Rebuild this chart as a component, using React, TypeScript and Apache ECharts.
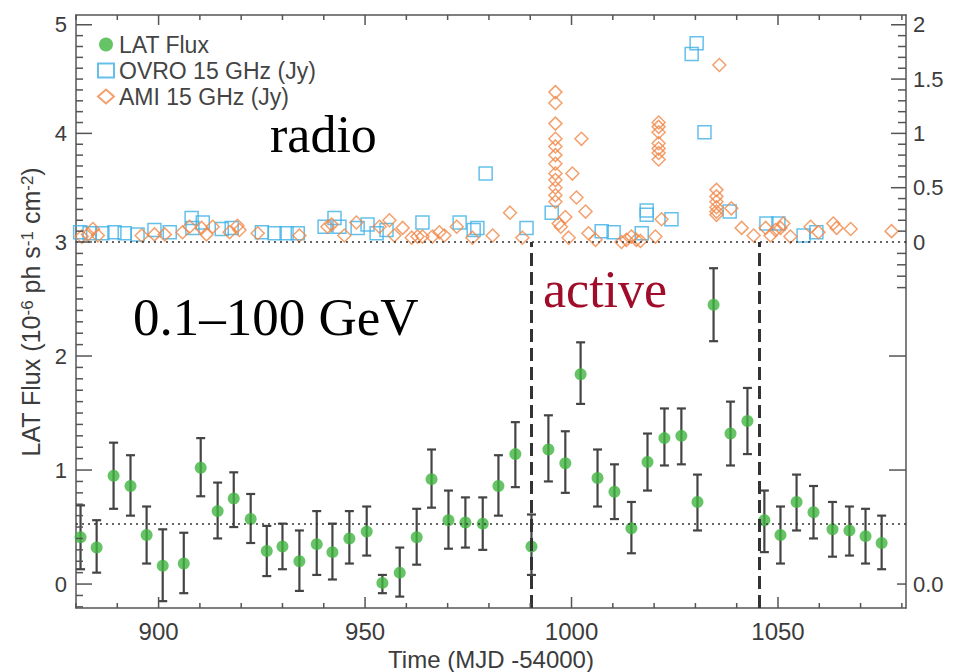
import React, { useEffect, useRef } from "react";
import * as echarts from "echarts";

// ---------- LAT flux (10^-6 ph s^-1 cm^-2) ----------
const latTime = [881.1, 885.0, 889.1, 893.2, 897.1, 901.0, 906.1, 910.2, 914.3, 918.2, 922.3, 926.2, 930.0, 934.1, 938.3, 942.1, 946.2, 950.4, 954.2, 958.4, 962.5, 966.1, 970.2, 974.3, 978.5, 982.3, 986.4, 990.3, 994.4, 998.5, 1002.2, 1006.3, 1010.4, 1014.5, 1018.4, 1022.5, 1026.6, 1030.5, 1034.4, 1038.5, 1042.6, 1046.7, 1050.6, 1054.5, 1058.6, 1063.2, 1067.3, 1071.2, 1075.1];
const latFlux = [0.41, 0.32, 0.95, 0.86, 0.43, 0.16, 0.18, 1.02, 0.64, 0.75, 0.57, 0.29, 0.33, 0.20, 0.35, 0.28, 0.40, 0.46, 0.01, 0.10, 0.41, 0.92, 0.56, 0.54, 0.53, 0.86, 1.14, 0.33, 1.18, 1.06, 1.84, 0.93, 0.81, 0.49, 1.07, 1.28, 1.30, 0.72, 2.45, 1.32, 1.43, 0.56, 0.43, 0.72, 0.63, 0.48, 0.47, 0.42, 0.36];
const latHigh = [0.69, 0.56, 1.24, 1.13, 0.68, 0.48, 0.45, 1.28, 0.89, 0.98, 0.79, 0.51, 0.53, 0.47, 0.64, 0.53, 0.64, 0.68, 0.08, 0.32, 0.66, 1.18, 0.82, 0.76, 0.76, 1.13, 1.42, 0.61, 1.48, 1.34, 2.12, 1.18, 1.05, 0.72, 1.32, 1.54, 1.54, 0.96, 2.77, 1.60, 1.72, 0.82, 0.68, 0.96, 0.86, 0.72, 0.68, 0.66, 0.60];
const latLow = [0.13, 0.10, 0.66, 0.60, 0.18, -0.15, -0.08, 0.77, 0.40, 0.50, 0.36, 0.07, 0.13, -0.06, 0.08, 0.04, 0.18, 0.25, -0.08, -0.11, 0.17, 0.67, 0.31, 0.32, 0.30, 0.60, 0.85, 0.08, 0.90, 0.80, 1.58, 0.68, 0.57, 0.27, 0.82, 1.04, 1.05, 0.47, 2.13, 1.04, 1.14, 0.28, 0.18, 0.47, 0.40, 0.24, 0.25, 0.18, 0.13];
const latMean = 0.53;

// ---------- OVRO 15 GHz (Jy) ----------
const ovroTime = [881, 883.3, 886.4, 889.3, 891.8, 894.9, 899, 902.7, 908, 908.2, 910.7, 915.3, 917.7, 925, 928.1, 931, 933.7, 940.2, 942.6, 943.8, 948.2, 950.6, 952.8, 955.2, 963.9, 972.9, 976.3, 977.2, 979.2, 989.1, 995.2, 1007.3, 1010.2, 1017, 1018.2, 1018.2, 1024.2, 1029.1, 1030.3, 1032.2, 1038.3, 1047.2, 1050.1, 1056.2, 1059.3];
const ovroFlux = [0.09, 0.08, 0.08, 0.09, 0.08, 0.07, 0.11, 0.09, 0.22, 0.13, 0.18, 0.12, 0.13, 0.09, 0.08, 0.08, 0.08, 0.14, 0.22, 0.14, 0.13, 0.16, 0.08, 0.11, 0.18, 0.18, 0.11, 0.13, 0.63, 0.13, 0.27, 0.10, 0.09, 0.08, 0.29, 0.25, 0.21, 1.73, 1.83, 1.01, 0.28, 0.17, 0.17, 0.06, 0.09];

// ---------- AMI 15 GHz (Jy) ----------
const amiTime = [
  881.4, 882.9, 884.1, 885.3, 895.9, 899.0, 901.5, 905.8, 907.5, 910.4,
  911.6, 913.1, 917.2, 919.1, 919.6, 924.0, 934.1, 940.9, 941.9, 945.0,
  947.9, 953.5, 955.9, 957.1, 959.1, 961.3, 962.7, 963.9, 966.3, 968.0,
  969.2, 972.2, 976.0, 980.9, 985.1, 988.1,
  996.1, 996.1, 996.1, 996.1, 996.1, 996.1, 996.1, 996.1, 996.1, 996.1, 996.1, 996.1,
  996.9, 997.4, 998.5, 999.3, 1000.2, 1001.2, 1002.4, 1003.4, 1004.1, 1005.8,
  1012.1, 1013.3, 1014.5, 1015.7, 1016.7, 1020.3, 1021.8,
  1021.1, 1021.1, 1021.1, 1021.1, 1021.1, 1021.1, 1021.1,
  1035.8,
  1035.1, 1035.1, 1035.1, 1035.1, 1035.1, 1035.1,
  1038.7, 1041.2, 1044.1, 1047.0, 1048.2, 1049.4, 1050.6, 1051.3, 1053.0, 1057.9,
  1059.8, 1063.4, 1064.2, 1067.6, 1077.5,
];
const amiFlux = [
  0.05, 0.07, 0.12, 0.06, 0.06, 0.07, 0.07, 0.09, 0.14, 0.13,
  0.07, 0.14, 0.09, 0.15, 0.11, 0.08, 0.06, 0.14, 0.16, 0.06,
  0.18, 0.14, 0.20, 0.06, 0.13, 0.04, 0.05, 0.05, 0.05, 0.09,
  0.06, 0.14, 0.04, 0.06, 0.27, 0.04,
  1.38, 1.28, 1.09, 0.95, 0.88, 0.80, 0.72, 0.63, 0.57, 0.50, 0.43, 0.37,
  0.17, 0.14, 0.23, 0.04, 0.63, 0.41, 0.95, 0.28, 0.08, 0.02,
  0.00, 0.02, 0.05, 0.02, 0.01, 0.05, 0.21,
  1.10, 1.06, 1.01, 0.91, 0.86, 0.82, 0.76,
  1.63,
  0.48, 0.42, 0.37, 0.32, 0.28, 0.25,
  0.31, 0.13, 0.06, 0.13, 0.06, 0.11, 0.13, 0.17, 0.05, 0.14,
  0.09, 0.17, 0.13, 0.12, 0.10,
];

// ---------- active period boundaries ----------
const activeBounds = [990.3, 1045.4];

// ---------- axis ranges, ticks and labels ----------
const xMin = 880;
const xMax = 1081;
const xMajor = [900, 950, 1000, 1050];
const xMinor = [880, 890, 910, 920, 930, 940, 960, 970, 980, 990, 1010, 1020, 1030, 1040, 1060, 1070, 1080];
const radioMax = 2.09;
const latMin = -0.21;
const latMax = 3;
const upperLeftMajor = [1, 2]; // labelled 4, 5 (LAT scale)
const upperRightLabels = [0, 0.5, 1, 1.5, 2];
const upperRightMajor = [0.5, 1, 1.5, 2];
const lowerLeftMajor = [0, 1, 2, 3];
const lowerRightMajor = [1, 2];
const lowerRightMinor = [0, 2.6, 2.7, 2.8, 2.9];

const tenths = (from: number, to: number, skip: (v: number) => boolean) => {
  const out: number[] = [];
  for (let i = Math.round(from * 10); i <= Math.round(to * 10); i++) {
    const v = i / 10;
    if (!skip(v)) out.push(v);
  }
  return out;
};
const isInt = (v: number) => Math.abs(v - Math.round(v)) < 1e-6;
const isHalf = (v: number) => Math.abs(v * 2 - Math.round(v * 2)) < 1e-6;

const SANS = '"Liberation Sans", Arial, Helvetica, sans-serif';
const SERIF = '"Liberation Serif", "Times New Roman", serif';
const AX = "#555";
const LBL = "#3c3c3c";

// side codes for tick renderer
const LEFT = 0, RIGHT = 1, BOTTOM = 2, TOP = 3;

export default function App() {
  const ref = useRef<HTMLDivElement>(null);
  useEffect(() => {
    if (!ref.current) return;
    const chart = echarts.init(ref.current, null, { renderer: "svg" });

    const lineStyle = { color: AX, width: 1.5 };
    const axisLine = { show: true, onZero: false, lineStyle };
    const noTick = { show: false };
    const xBase = { type: "value", min: xMin, max: xMax, splitLine: { show: false }, axisTick: noTick, axisLine };
    const upperY = { type: "value", gridIndex: 0, min: 0, max: radioMax, splitLine: { show: false }, axisTick: noTick, axisLine };
    const lowerY = { type: "value", gridIndex: 1, min: latMin, max: latMax, splitLine: { show: false }, axisTick: noTick, axisLine };

    const tickItems = (side: number, values: number[], len: number) => values.map((v) => [side, v, len]);

    const makeTickSeries = (xi: number, yi: number, yLo: number, yHi: number, items: number[][]) => ({
      type: "custom",
      xAxisIndex: xi,
      yAxisIndex: yi,
      silent: true,
      z: 6,
      encode: { x: -1, y: -1 },
      data: items,
      renderItem: (_p: any, api: any) => {
        const side = api.value(0);
        const v = api.value(1);
        const len = api.value(2);
        let x1 = 0, y1 = 0, x2 = 0, y2 = 0;
        if (side === LEFT) {
          const p = api.coord([xMin, v]);
          x1 = p[0]; y1 = p[1]; x2 = p[0] + len; y2 = p[1];
        } else if (side === RIGHT) {
          const p = api.coord([xMax, v]);
          x1 = p[0]; y1 = p[1]; x2 = p[0] - len; y2 = p[1];
        } else if (side === BOTTOM) {
          const p = api.coord([v, yLo]);
          x1 = p[0]; y1 = p[1]; x2 = p[0]; y2 = p[1] - len;
        } else {
          const p = api.coord([v, yHi]);
          x1 = p[0]; y1 = p[1]; x2 = p[0]; y2 = p[1] + len;
        }
        return { type: "line", shape: { x1, y1, x2, y2 }, style: { stroke: AX, lineWidth: 1.5 } };
      },
    });

    const upperTicks = [
      ...tickItems(LEFT, upperLeftMajor, 16),
      ...tickItems(LEFT, tenths(0.1, 2.0, isInt), 7),
      ...tickItems(RIGHT, upperRightMajor, 15),
      ...tickItems(RIGHT, tenths(0.1, 2.0, isHalf), 8),
      ...tickItems(TOP, xMajor, 10),
      ...tickItems(TOP, xMinor, 5),
    ];
    const lowerTicks = [
      ...tickItems(LEFT, lowerLeftMajor, 16),
      ...tickItems(LEFT, tenths(-0.2, 2.9, isInt), 7),
      ...tickItems(RIGHT, lowerRightMajor, 17),
      ...tickItems(RIGHT, lowerRightMinor, 9),
      ...tickItems(BOTTOM, xMajor, 11),
      ...tickItems(BOTTOM, xMinor, 5),
    ];

    const option: any = {
      animation: false,
      backgroundColor: "#fff",
      grid: [
        { left: 76, right: 48, top: 15, height: 227, containLabel: false, outerBoundsMode: "none" },
        { left: 76, right: 48, top: 242, bottom: 64, containLabel: false, outerBoundsMode: "none" },
      ],
      xAxis: [
        {
          ...xBase, gridIndex: 1, position: "bottom",
          axisLabel: { show: true, customValues: xMajor, formatter: (v: number) => String(v), margin: 11, fontSize: 24, color: LBL, fontFamily: SANS },
          name: "Time (MJD -54000)", nameLocation: "middle", nameGap: 35,
          nameTextStyle: { fontSize: 24, color: LBL, fontFamily: SANS },
        },
        {
          ...xBase, gridIndex: 0, position: "top",
          axisLabel: { show: false },
        },
      ],
      yAxis: [
        {
          ...upperY, position: "left",
          axisLabel: { show: true, customValues: upperLeftMajor, formatter: (v: number) => String(Math.round(v + 3)), margin: 9, fontSize: 22, color: LBL, fontFamily: SANS },
        },
        {
          ...upperY, position: "right",
          axisLabel: { show: true, customValues: upperRightLabels, formatter: (v: number) => String(v), margin: 7, fontSize: 22, color: LBL, fontFamily: SANS },
        },
        {
          ...lowerY, position: "left",
          axisLabel: { show: true, customValues: lowerLeftMajor, formatter: (v: number) => String(Math.round(v)), margin: 9, fontSize: 22, color: LBL, fontFamily: SANS },
        },
        {
          ...lowerY, position: "right",
          axisLabel: { show: true, customValues: [0], formatter: () => "0.0", margin: 7, fontSize: 22, color: LBL, fontFamily: SANS },
        },
      ],
      legend: {
        data: [
          { name: "LAT Flux", icon: "circle" },
          { name: "OVRO 15 GHz (Jy)", icon: "rect" },
          { name: "AMI 15 GHz (Jy)", icon: "diamond" },
        ],
        orient: "vertical",
        left: 92,
        top: 28,
        itemWidth: 16,
        itemHeight: 14,
        itemGap: 3,
        textStyle: { fontSize: 23, color: "#444", fontFamily: SANS },
        selectedMode: false,
      },
      series: [
        makeTickSeries(1, 0, 0, radioMax, upperTicks),
        makeTickSeries(0, 2, latMin, latMax, lowerTicks),
        {
          name: "LAT error",
          type: "custom",
          xAxisIndex: 0,
          yAxisIndex: 2,
          z: 2,
          encode: { x: 0, y: [1, 2] },
          data: latTime.map((t, i) => [t, latLow[i], latHigh[i]]),
          renderItem: (_params: any, api: any) => {
            const x = api.value(0);
            const p1 = api.coord([x, api.value(2)]);
            const p2 = api.coord([x, api.value(1)]);
            const w = 4.5;
            const style = { stroke: "#444", lineWidth: 2.2, fill: "none" };
            return {
              type: "group",
              children: [
                { type: "line", shape: { x1: p1[0], y1: p1[1], x2: p2[0], y2: p2[1] }, style },
                { type: "line", shape: { x1: p1[0] - w, y1: p1[1], x2: p1[0] + w, y2: p1[1] }, style },
                { type: "line", shape: { x1: p2[0] - w, y1: p2[1], x2: p2[0] + w, y2: p2[1] }, style },
              ],
            };
          },
        },
        {
          name: "LAT Flux",
          type: "scatter",
          xAxisIndex: 0,
          yAxisIndex: 2,
          z: 4,
          symbol: "circle",
          symbolSize: 12,
          itemStyle: { color: "#40b540" },
          data: latTime.map((t, i) => [t, latFlux[i]]),
          markLine: {
            silent: true,
            symbol: "none",
            label: { show: false },
            data: [
              { yAxis: latMean, lineStyle: { type: [2, 4], width: 1.6, color: "#333" } },
              { yAxis: latMax, lineStyle: { type: [2, 4], width: 1.6, color: "#333" } },
              ...activeBounds.map((b) => ({ xAxis: b, lineStyle: { type: [13, 6], width: 3, color: "#333" } })),
            ],
          },
        },
        {
          name: "OVRO 15 GHz (Jy)",
          type: "scatter",
          xAxisIndex: 1,
          yAxisIndex: 1,
          z: 3,
          symbol: "rect",
          symbolSize: 13,
          itemStyle: { color: "rgba(255,255,255,0)", borderColor: "#3db0e6", borderWidth: 1.5 },
          data: ovroTime.map((t, i) => [t, ovroFlux[i]]),
        },
        {
          name: "AMI 15 GHz (Jy)",
          type: "scatter",
          xAxisIndex: 1,
          yAxisIndex: 1,
          z: 3,
          symbol: "diamond",
          symbolSize: 13,
          itemStyle: { color: "rgba(255,255,255,0)", borderColor: "#f08848", borderWidth: 1.5 },
          data: amiTime.map((t, i) => [t, amiFlux[i]]),
        },
      ],
      graphic: [
        {
          type: "text", x: 270, y: 134,
          style: { text: "radio", font: `52px ${SERIF}`, fill: "#000", align: "left", verticalAlign: "middle" },
        },
        {
          type: "text", x: 133, y: 317,
          style: { text: "0.1–100 GeV", font: `53px ${SERIF}`, fill: "#000", align: "left", verticalAlign: "middle" },
        },
        {
          type: "text", x: 543, y: 289,
          style: { text: "active", font: `52px ${SERIF}`, fill: "#a00d2a", align: "left", verticalAlign: "middle" },
        },
        {
          type: "text", x: 31, y: 312, rotation: Math.PI / 2,
          style: {
            text: "LAT Flux (10{sup|-6} ph s{sup|-1} cm{sup|-2})",
            fontSize: 25, fontFamily: SANS, fill: LBL,
            align: "center", verticalAlign: "middle",
            rich: { sup: { fontSize: 17, fontFamily: SANS, fill: LBL, verticalAlign: "top", lineHeight: 16 } },
          },
        },
      ],
    };
    chart.setOption(option);
    return () => chart.dispose();
  }, []);
  return (
    <div
      ref={ref}
      style={{ position: "fixed", left: 0, top: 0, width: 954, height: 672, background: "#fff" }}
    />
  );
}
